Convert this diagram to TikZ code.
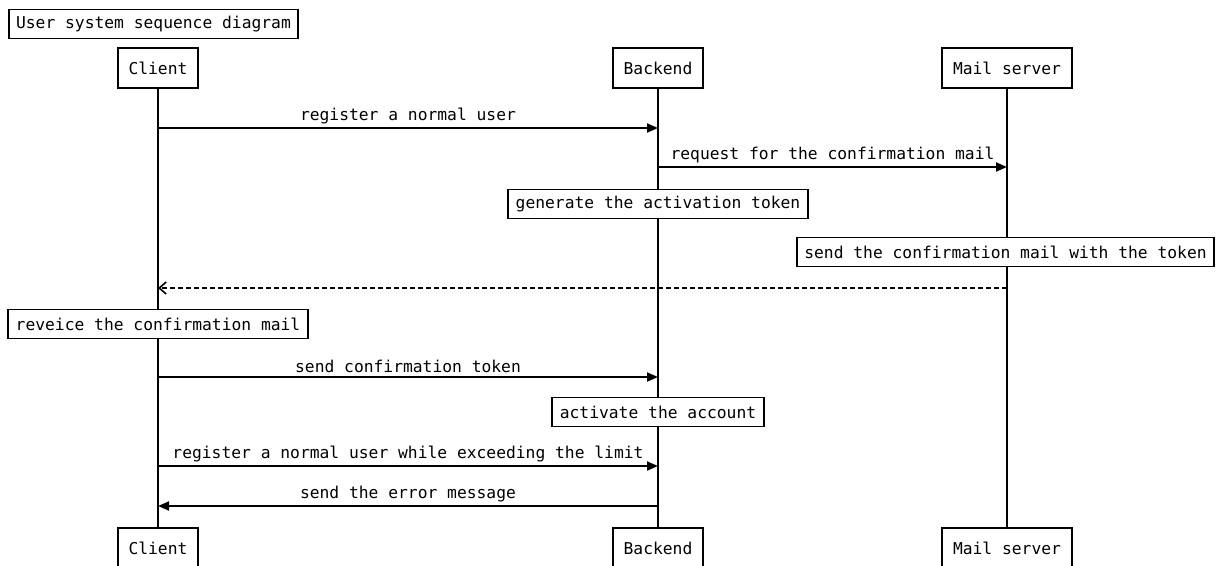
\documentclass[tikz,border=0pt]{standalone}
\usepackage{fontspec}
\setmonofont{DejaVu Sans Mono}
\usetikzlibrary{arrows.meta}
\begin{document}
\begin{tikzpicture}[x=1pt,y=-1pt,
  every node/.style={font=\fontsize{16.3}{18}\selectfont\ttfamily},
  actor/.style={draw,line width=1.9pt,minimum height=40pt,inner xsep=11pt,fill=white},
  note/.style={draw,line width=1.9pt,minimum height=29pt,inner xsep=7.5pt,inner ysep=2pt,fill=white},
  life/.style={line width=1.9pt},
  msg/.style={line width=1.9pt,-{Triangle[length=11pt,width=9pt]}},
  reply/.style={line width=1.6pt,dash pattern=on 5pt off 3pt,-{Straight Barb[length=7pt,width=12pt,line width=1.6pt]}},
  lbl/.style={above,inner sep=0pt,yshift=3.5pt}]
\useasboundingbox (0,0) rectangle (1217,565);
\fill[white] (0,0) rectangle (1217,565);

\node[note] (title) at (153.5,24) {User system sequence diagram};

% lifelines
\draw[life] (158,68) -- (158,548);
\draw[life] (658,68) -- (658,548);
\draw[life] (1007,68) -- (1007,548);

\node[actor] (clientT) at (158,68) {Client};
\node[actor] (backendT) at (658,68) {Backend};
\node[actor] (mailT) at (1007,68) {Mail server};
\node[actor] (clientB) at (158,548) {Client};
\node[actor] (backendB) at (658,548) {Backend};
\node[actor] (mailB) at (1007,548) {Mail server};

% message endpoints
\coordinate (m1a) at (158,128); \coordinate (m1b) at (658,128);
\coordinate (m2a) at (658,167); \coordinate (m2b) at (1007,167);
\coordinate (m3a) at (1007,288); \coordinate (m3b) at (158,288);
\coordinate (m4a) at (158,377); \coordinate (m4b) at (658,377);
\coordinate (m5a) at (158,466); \coordinate (m5b) at (658,466);
\coordinate (m6a) at (658,506); \coordinate (m6b) at (158,506);

\draw[msg] (m1a) -- node[lbl] (l1) {register a normal user} (m1b);
\draw[msg] (m2a) -- node[lbl] (l2) {request for the confirmation mail} (m2b);
\node[note] (n1) at (658,204) {generate the activation token};
\node[note] (n2) at (1005.5,252) {send the confirmation mail with the token};
\draw[reply] (m3a) -- (m3b);
\node[note] (n3) at (158,324) {reveice the confirmation mail};
\draw[msg] (m4a) -- node[lbl] (l4) {send confirmation token} (m4b);
\node[note] (n4) at (658,412) {activate the account};
\draw[msg] (m5a) -- node[lbl] (l5) {register a normal user while exceeding the limit} (m5b);
\draw[msg] (m6a) -- node[lbl] (l6) {send the error message} (m6b);
\end{tikzpicture}
\end{document}
